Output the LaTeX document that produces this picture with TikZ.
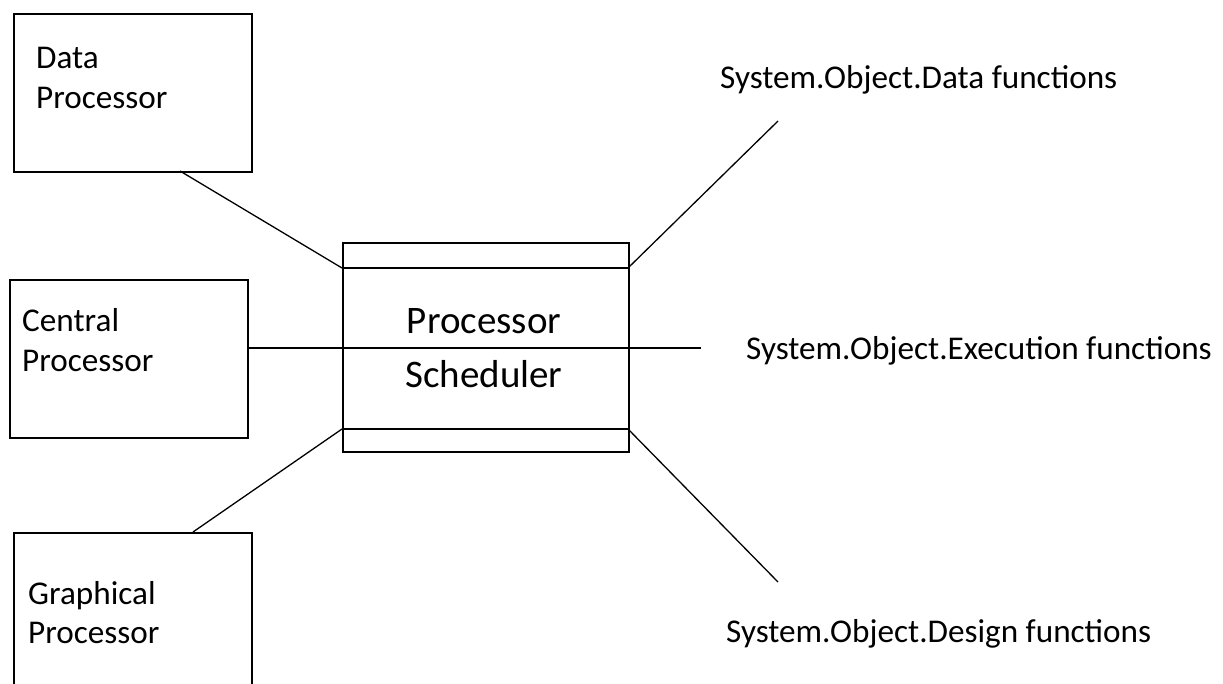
\documentclass[tikz,border=0pt]{standalone}
\usepackage{fontspec}
\setmainfont{Carlito}
\begin{document}
\begin{tikzpicture}[x=1pt,y=-1pt,
  box/.style={draw=black,line width=1.6pt,minimum width=0pt,minimum height=0pt,inner sep=0pt,fill=none},
  link/.style={draw=black,line width=1.3pt},
  lbl/.style={inner sep=0pt,anchor=base west,text=black,font=\fontsize{33.2}{40}\selectfont},
  big/.style={inner sep=0pt,anchor=base,text=black,font=\fontsize{39}{48}\selectfont}]
\useasboundingbox (0,0) rectangle (1223,683);
\clip (0,0) rectangle (1223,683);
% boxes
\node[box,minimum width=238pt,minimum height=158pt,anchor=north west] (data) at (13,13) {};
\node[box,minimum width=238pt,minimum height=158pt,anchor=north west] (central) at (9,279) {};
\node[box,minimum width=238pt,minimum height=200pt,anchor=north west] (graph) at (13,532) {};
\node[box,minimum width=286pt,minimum height=209pt,anchor=north west] (sched) at (342,242) {};
% inner bars of scheduler
\coordinate (sTL) at (342,268);
\coordinate (sTR) at (628,268);
\coordinate (sBL) at (342,429);
\coordinate (sBR) at (628,429);
\draw[link,line width=1.6pt] (sTL) -- (sTR);
\draw[link,line width=1.6pt] (sBL) -- (sBR);
% texts
\node[lbl] (t1) at (36,68) {Data};
\node[lbl] (t2) at (36,108) {Processor};
\node[lbl] (t3) at (22,331) {Central};
\node[lbl] (t4) at (22,371) {Processor};
\node[lbl] (t5) at (28,604) {Graphical};
\node[lbl] (t6) at (28,643) {Processor};
\node[big] (t7) at (484,333) {Processor};
\node[big] (t8) at (484,387) {Scheduler};
\node[lbl] (f1) at (720,88) {System.Object.Data functions};
\node[lbl] (f2) at (746,359) {System.Object.Execution functions};
\node[lbl] (f3) at (726,642) {System.Object.Design functions};
% connectors
\coordinate (dA) at (180,171);
\coordinate (gA) at (193,532);
\coordinate (eEnd) at (701,348);
\coordinate (uEnd) at (778,121);
\coordinate (lEnd) at (778,582);
\draw[link] (dA) -- (sTL);
\draw[link] (gA) -- (sBL);
\draw[link] (central.east |- eEnd) -- (eEnd);
\draw[link] (sTR) -- (uEnd);
\draw[link] (sBR) -- (lEnd);
\end{tikzpicture}
\end{document}
